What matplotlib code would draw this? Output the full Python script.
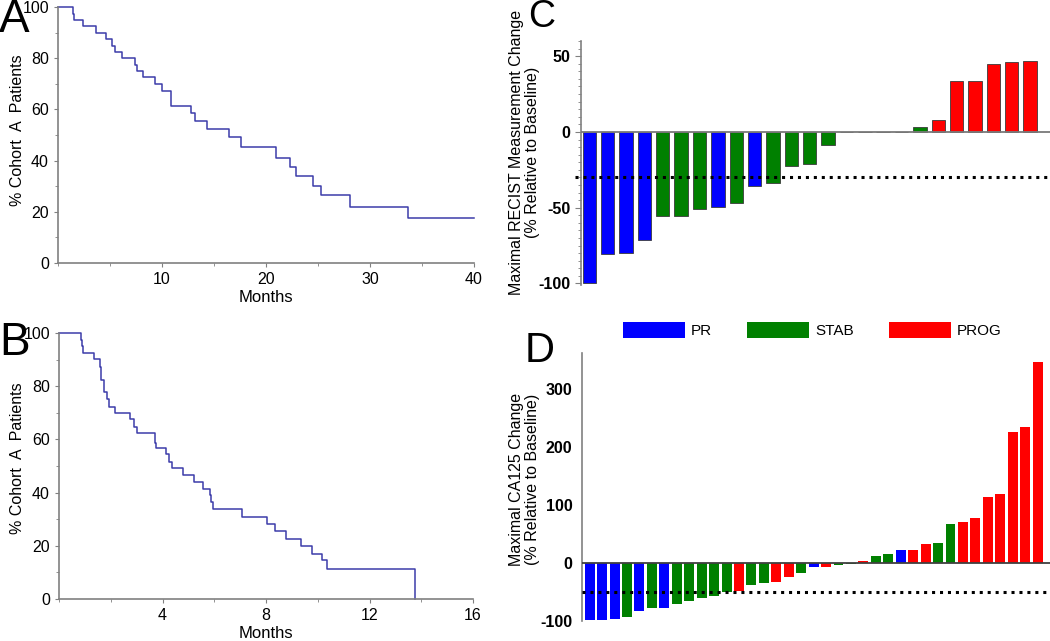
import numpy as np
import matplotlib
matplotlib.use("Agg")
import matplotlib.pyplot as plt
from matplotlib.patches import Patch
from matplotlib.ticker import MultipleLocator

plt.rcParams['font.family'] = ['Liberation Sans', 'DejaVu Sans']
plt.rcParams['axes.unicode_minus'] = False

# Kaplan-Meier style curves (months, % patients)
a_months = [0, 1.44, 1.5, 2.4, 3.7, 4.6, 5.2, 5.45, 6.2, 7.4, 7.6, 8.2, 9.3, 10.0,
            10.9, 12.8, 13.2, 14.3, 16.4, 17.6, 21.0, 22.3, 22.9, 24.5, 25.3, 28.1, 33.7, 40]
a_pct = [100, 97.3, 94.8, 92.4, 89.8, 87.4, 84.9, 82.4, 79.9, 77.5, 75, 72.5, 70, 67.1,
         61.5, 58.6, 55.3, 52.3, 49.1, 45.2, 41.1, 37.5, 33.9, 29.9, 26.4, 22.0, 17.4, 17.4]

b_months = [0, 0.84, 0.9, 0.93, 1.35, 1.6, 1.64, 1.75, 1.87, 1.94, 2.15, 2.76, 2.9, 3.03,
            3.72, 3.74, 4.15, 4.26, 4.35, 4.81, 5.23, 5.56, 5.83, 5.87, 5.97, 7.06, 8.03,
            8.35, 8.79, 9.34, 9.79, 10.15, 10.35, 13.77]
b_pct = [100, 97.5, 95, 92.6, 90.1, 87.3, 82.5, 77.9, 75.3, 72.3, 70.1, 67.5, 64.8, 62.5,
         58.8, 56.9, 54.5, 51.6, 49.3, 46.8, 44, 41.5, 39, 36.3, 33.8, 31, 28.1,
         25.5, 22.6, 20, 16.9, 14.5, 11.3, 0]

# waterfall C: RECIST
recist_change = [-100, -80.7, -80.2, -71, -55.2, -55.2, -50.8, -49.5, -46.6, -35.8, -33.4,
                 -22.2, -20.9, -8.4, 0, 0, 0, 0, 3.1, 7.7, 33.4, 33.4, 45, 45.9, 46.8]
recist_resp = ['PR', 'PR', 'PR', 'PR', 'STAB', 'STAB', 'STAB', 'PR', 'STAB', 'PR', 'STAB',
               'STAB', 'STAB', 'STAB', 'STAB', 'STAB', 'STAB', 'STAB', 'STAB',
               'PROG', 'PROG', 'PROG', 'PROG', 'PROG', 'PROG']

# waterfall D: CA125
ca125_change = [-98.9, -97.7, -96.6, -93.7, -82.2, -77.6, -77.6, -70.7, -64.9, -60.9, -56.9,
                -50, -47.7, -37.9, -34.5, -32.2, -24.1, -16.7, -6.9, -6.9, -2.9, -1.7, 2.9,
                11.5, 16.1, 21.8, 23.0, 33.3, 35.6, 67.2, 70.7, 78.7, 114.9, 119.0, 225.9,
                235.6, 348.3]
ca125_resp = ['PR', 'PR', 'PR', 'STAB', 'PR', 'STAB', 'PR', 'STAB', 'STAB', 'STAB', 'STAB',
              'STAB', 'PROG', 'STAB', 'STAB', 'PROG', 'PROG', 'STAB', 'PR', 'PROG', 'STAB',
              'STAB', 'PROG', 'STAB', 'STAB', 'PR', 'PROG', 'PROG', 'STAB', 'STAB', 'PROG',
              'PROG', 'PROG', 'PROG', 'PROG', 'PROG', 'PROG']

resp_colors = {'PR': '#0000ff', 'STAB': '#008000', 'PROG': '#ff0000'}
line_col = '#3c3caa'
spine_col = '#808080'

W, H = 1050, 641
fig = plt.figure(figsize=(W / 100, H / 100), dpi=100)


def px_rect(l, t, r, b):
    return [l / W, 1 - b / H, (r - l) / W, (b - t) / H]


def km_axes(rect, x, y, xmax, xmaj, xmin, label_y):
    ax = fig.add_axes(px_rect(*rect))
    ax.step(x, y, where='post', color=line_col, lw=1.1, clip_on=False)
    ax.set_xlim(0, xmax)
    ax.set_ylim(0, 100)
    ax.xaxis.set_minor_locator(MultipleLocator(xmin))
    ax.yaxis.set_major_locator(MultipleLocator(20))
    ax.yaxis.set_minor_locator(MultipleLocator(10))
    ax.set_xticks(np.arange(xmaj, xmax + 0.1, xmaj))
    for s in ['top', 'right']:
        ax.spines[s].set_visible(False)
    for s in ['left', 'bottom']:
        ax.spines[s].set_color(spine_col)
        ax.spines[s].set_linewidth(1.2)
    ax.tick_params(which='both', direction='out', color=spine_col, labelsize=11.5)
    ax.tick_params(which='major', length=3)
    ax.tick_params(which='minor', length=2)
    ax.set_xlabel('Months', fontsize=12, labelpad=2)
    ax.set_ylabel('% Cohort  A  Patients', fontsize=11.5)
    ax.yaxis.set_label_coords((25 - rect[0]) / (rect[2] - rect[0]), label_y)
    return ax


km_axes((58, 7, 474, 263), a_months, a_pct, 40, 10, 5, 0.52)
km_axes((59, 333, 473, 599), b_months, b_pct, 16, 4, 2, 0.53)


def waterfall(rect, vals, groups, ylim, xlim, width, cutoff, ylabel, edge, minor, label_y, zero_col):
    ax = fig.add_axes(px_rect(*rect))
    x = np.arange(len(vals))
    cols = [resp_colors[g] for g in groups]
    if edge:
        ax.bar(x, vals, width=width, color=cols, edgecolor='#3a3a3a', linewidth=0.6)
    else:
        ax.bar(x, vals, width=width, color=cols, linewidth=0)
    ax.set_xlim(*xlim)
    ax.set_ylim(*ylim)
    ax.axhline(0, color=zero_col, lw=1.3, zorder=3)
    ax.axhline(cutoff, color='black', lw=2.2, ls=(0, (1, 1.6)), zorder=4,
               xmin=-0.012 if edge else 0, clip_on=False)
    for s in ['top', 'right', 'bottom']:
        ax.spines[s].set_visible(False)
    ax.spines['left'].set_color(spine_col)
    ax.spines['left'].set_linewidth(1.2)
    ax.set_xticks([])
    if minor:
        ax.yaxis.set_major_locator(MultipleLocator(50))
        ax.yaxis.set_minor_locator(MultipleLocator(5))
        ax.tick_params(axis='y', which='both', direction='out', color=spine_col)
        ax.tick_params(axis='y', which='major', length=4)
        ax.tick_params(axis='y', which='minor', length=2)
    else:
        ax.yaxis.set_major_locator(MultipleLocator(100))
        ax.tick_params(axis='y', length=0, pad=7)
    for lab in ax.get_yticklabels():
        lab.set_fontweight('bold')
        lab.set_fontsize(11.5)
    ax.set_ylabel(ylabel, fontsize=11.5, linespacing=1.1)
    ax.yaxis.set_label_coords((540 - rect[0]) / (rect[2] - rect[0]), label_y)
    return ax


waterfall((581, 41, 1050, 285), recist_change, recist_resp, (-101, 60), (-0.45, 25.08), 0.73,
          -30, 'Maximal RECIST Measurement Change\n(% Relative to Baseline)', True, True,
          0.545, '#7a7a7a')
waterfall((582, 353, 1050, 621), ca125_change, ca125_resp, (-100, 363), (-0.62, 37.0), 0.8,
          -50, 'Maximal CA125 Change\n(% Relative to Baseline)', False, False,
          0.53, '#404040')

handles = [Patch(facecolor=resp_colors[k], edgecolor='none') for k in ['PR', 'STAB', 'PROG']]
fig.legend(handles, ['PR', 'STAB', 'PROG'], loc='center', ncol=3,
           bbox_to_anchor=(812 / W, 1 - 330 / H), frameon=False, fontsize=11,
           handlelength=4.05, handleheight=1.2, handletextpad=0.4, columnspacing=2.3)

for letter, xp, yp, fs in [('A', 14, 20, 33), ('B', 15, 343, 33), ('C', 542, 17, 27), ('D', 540, 351, 30)]:
    fig.text(xp / W, 1 - yp / H, letter, fontsize=fs, ha='center', va='center')

fig.savefig('out.png', dpi=100)
